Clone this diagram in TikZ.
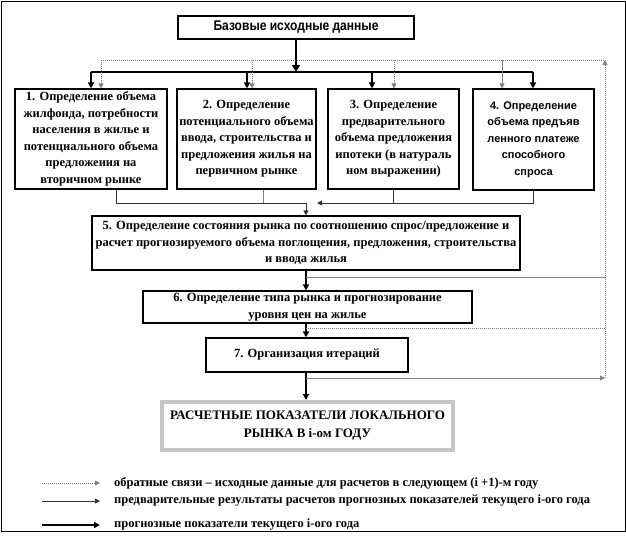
\documentclass[tikz,border=0pt]{standalone}
\usepackage{fontspec}
\setmainfont{Liberation Serif}
\newfontfamily\narrowsans[FakeStretch=0.86]{Liberation Sans}
\newfontfamily\plainsans{Liberation Sans}
\usetikzlibrary{arrows.meta}

\tikzset{
	stage/.style={draw, line width=1.1pt, align=center, inner sep=0pt,
		font=\fontsize{12.5}{16.5}\selectfont\bfseries},
	thickarrow/.style={line width=2.2pt, -{Triangle[length=7pt,width=8pt]}},
	smallarrow/.style={line width=1.6pt, -{Triangle[length=6pt,width=6pt]}},
	thinline/.style={line width=0.9pt, black!80},
	grayline/.style={line width=0.9pt, gray},
	backline/.style={line width=0.9pt, gray, dash pattern=on 1pt off 1pt},
	tip/.style={-{Triangle[length=5pt,width=5pt]}},
	legendtext/.style={anchor=west, inner sep=0pt, font=\fontsize{12.5}{14}\selectfont\bfseries},
}

\begin{document}
\begin{tikzpicture}[x=1pt, y=-1pt]
	\useasboundingbox (0,0) rectangle (626,536);
	\draw [line width=1pt] (1,1) rectangle (625,531);

	\node [draw, line width=1.8pt, minimum width=236pt, minimum height=23pt, inner sep=0pt,
		font=\narrowsans\fontsize{14}{15}\selectfont\bfseries] (base) at (296,27.5) {Базовые исходные данные};

	\node [stage, minimum width=152pt, minimum height=100pt] (b1) at (91,139)
		{1. Определение  объема\\ жилфонда, потребности\\ населения в жилье и\\ потенциального объема\\ предложения на\\ вторичном рынке};
	\node [stage, minimum width=139pt, minimum height=100pt] (b2) at (246.5,139)
		{2. Определение\\ потенциального объема\\ ввода, строительства и\\ предложения жилья на\\ первичном рынке};
	\node [stage, minimum width=131pt, minimum height=100pt] (b3) at (393.5,139)
		{3. Определение\\ предварительного\\ объема предложения\\ ипотеки (в натураль\\ ном выражении)};
	\node [stage, minimum width=121pt, minimum height=101pt,
		font=\plainsans\fontsize{11}{16.5}\selectfont\bfseries] (b4) at (533.5,139.5)
		{4. Определение\\ объема предъяв\\ ленного платеже\\ способного\\ спроса};
	\node [stage, minimum width=428pt, minimum height=54pt] (b5) at (306,243)
		{5. Определение  состояния рынка по соотношению спрос/предложение и\\ расчет прогнозируемого объема поглощения, предложения, строительства\\ и ввода  жилья};
	\node [stage, minimum width=329pt, minimum height=32pt] (b6) at (307.5,307)
		{6. Определение  типа рынка и прогнозирование\\ уровня цен на жилье};
	\node [stage, minimum width=202pt, minimum height=34pt] (b7) at (307,355)
		{7. Организация итераций};
	\node [stage, draw=gray!45, line width=4pt, minimum width=291pt, minimum height=48pt,
		font=\fontsize{13}{18}\selectfont\bfseries] (res) at (307.5,426)
		{РАСЧЕТНЫЕ  ПОКАЗАТЕЛИ ЛОКАЛЬНОГО\\ РЫНКА  В i-ом ГОДУ};

	% base data to the four blocks
	\coordinate (barL) at (91,72);
	\coordinate (barR) at (533,72);
	\coordinate (t2) at (247,72);
	\coordinate (t3) at (372,72);
	\draw [thickarrow] (base) -- (base.south |- barL);
	\draw [line width=2.2pt] (barL) -- (barR);
	\draw [smallarrow] (barL) -- (barL |- b1.north);
	\draw [smallarrow] (t2) -- (t2 |- b2.north);
	\draw [smallarrow] (t3) -- (t3 |- b3.north);
	\draw [smallarrow] (barR) -- (barR |- b4.north);

	% feedback from the previous year
	\coordinate (f1) at (101,60);
	\coordinate (f2) at (252,60);
	\coordinate (f3) at (394,60);
	\coordinate (f4) at (502,60);
	\coordinate (fR) at (605,60);
	\coordinate (loop) at (605,378);
	\draw [backline] (f1) -- (fR);
	\draw [backline, tip] (f1) -- (f1 |- b1.north);
	\draw [backline, tip] (f2) -- (f2 |- b2.north);
	\draw [backline, tip] (f3) -- (f3 |- b3.north);
	\draw [grayline, tip] (f4) -- (f4 |- b4.north);
	\draw [backline, tip] (loop) -- (fR);

	% blocks 1-4 to block 5
	\coordinate (c1) at (116,203);
	\coordinate (c2) at (263,203);
	\coordinate (c3) at (393,203);
	\coordinate (c4) at (533,203);
	\coordinate (m5) at (306,203);
	\coordinate (m5r) at (317,203);
	\draw [thinline] (c1 |- b1.south) -- (c1) -- (m5);
	\draw [thinline, tip] (m5) -- (m5 |- b5.north);
	\draw [grayline] (c2 |- b2.south) -- (c2);
	\draw [thinline] (c3 |- b3.south) -- (c3);
	\draw [thinline, tip] (c4 |- b4.south) -- (c4) -- (m5r);

	% down the chain
	\draw [smallarrow] (b5.south) -- (b5.south |- b6.north);
	\draw [smallarrow] (b5.south |- b6.south) -- (b5.south |- b7.north);
	\draw [smallarrow] (b5.south |- b7.south) -- (b5.south |- res.north);

	\coordinate (o5) at (306,277);
	\coordinate (o5r) at (605,277);
	\coordinate (o6) at (306,328);
	\coordinate (o6r) at (605,328);
	\coordinate (o7) at (306,378);
	\draw [grayline] (o5) -- (o5r);
	\draw [backline] (o6) -- (o6r);
	\draw [grayline, tip] (o7) -- (loop);

	% legend
	\coordinate (l1a) at (42,483);
	\coordinate (l1b) at (100,483);
	\coordinate (l2a) at (42,501);
	\coordinate (l2b) at (100,501);
	\coordinate (l3a) at (42,525);
	\coordinate (l3b) at (100,525);
	\draw [backline, tip] (l1a) -- (l1b);
	\draw [thinline, tip] (l2a) -- (l2b);
	\draw [line width=2pt, -{Triangle[length=6pt,width=6pt]}] (l3a) -- (l3b);
	\node [legendtext] (l1) at (114,483) {обратные связи – исходные  данные для расчетов в следующем (i +1)-м году};
	\node [legendtext] (l2) at (114,501) {предварительные  результаты  расчетов прогнозных показателей текущего i-ого года};
	\node [legendtext] (l3) at (114,525) {прогнозные показатели  текущего i-ого года};
\end{tikzpicture}
\end{document}
